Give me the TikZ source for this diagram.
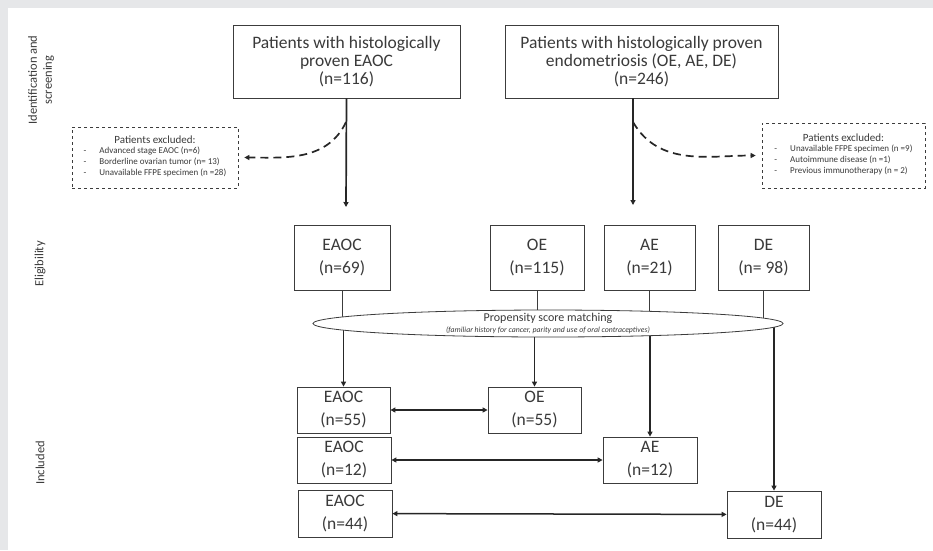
\documentclass[tikz,border=0pt]{standalone}
\usepackage{fontspec}
\setmainfont{Carlito}
\usetikzlibrary{
	arrows.meta,
	shapes.geometric
}
\definecolor{txtgray}{HTML}{3A3A3A}
\definecolor{linegray}{HTML}{3C3C3C}
\definecolor{bggray}{HTML}{E6E7E9}
\tikzset{
	box/.style={
		draw=linegray,
		line width=.8pt,
		fill=white,
		text=txtgray,
		align=center,
		inner sep=0pt,
		font=\fontsize{17.5}{23}\selectfont
	},
	topbox/.style={
		box,
		font=\fontsize{17.5}{18}\selectfont
	},
	exbox/.style={
		draw=linegray,
		dashed,
		line width=.7pt,
		text=txtgray,
		align=center,
		inner sep=0pt
	},
	psm/.style={
		ellipse,
		draw=linegray,
		line width=.8pt,
		fill=white,
		text=txtgray,
		align=center,
		inner xsep=0pt,
		inner ysep=-3pt
	},
	phase/.style={
		rotate=90,
		text=txtgray,
		align=center,
		font=\fontsize{12.5}{15}\selectfont
	},
	thinline/.style={
		draw=linegray,
		line width=.8pt
	},
	flow/.style={
		draw=black!85,
		line width=1.7pt,
		-{Triangle[length=5pt,width=5pt]}
	},
	pairflow/.style={
		flow,
		line width=1.5pt,
		{Triangle[length=5pt,width=5pt]}-{Triangle[length=5pt,width=5pt]}
	},
	exflow/.style={
		draw=black!85,
		line width=1.7pt,
		dash pattern=on 8pt off 5pt,
		-{Triangle[length=5pt,width=5pt]},
		shorten >=6pt
	}
}
\newcommand{\exlist}[3]{%
	{\fontsize{11}{12}\selectfont Patients excluded:}\\[1pt]
	{\fontsize{9}{11}\selectfont
		\begin{tabular}{@{}l@{\hspace{13pt}}l@{}}
			- & #1\\
			- & #2\\
			- & #3
		\end{tabular}}%
}

\begin{document}
\begin{tikzpicture}[x=1pt, y=-1pt]
	\fill[bggray] (0,0) rectangle (933,550);
	\fill[white] (8,8) rectangle (933,550);

	%%%%%%%% PHASES
	\node[phase] (ident) at (41,80) {Identification and\\screening};
	\node[phase] (elig) at (40,264) {Eligibility};
	\node[phase] (incl) at (40,463) {Included};

	%%%%%%%% IDENTIFICATION
	\node[topbox, minimum width=227pt, minimum height=73pt] (eaocall) at (346.5,61.5)
		{Patients with histologically\\proven EAOC\\(n=116)};
	\node[topbox, minimum width=273pt, minimum height=73pt] (endoall) at (641.5,61.5)
		{Patients with histologically proven\\endometriosis (OE, AE, DE)\\(n=246)};

	\node[exbox, minimum width=166pt, minimum height=61pt] (exeaoc) at (155,157.5)
		{\exlist{Advanced stage EAOC (n=6)}{Borderline ovarian tumor (n= 13)}{Unavailable FFPE specimen (n =28)}};
	\node[exbox, minimum width=163pt, minimum height=65pt] (exendo) at (843.5,155.5)
		{\exlist{Unavailable FFPE specimen (n =9)}{Autoimmune disease (n =1)}{Previous immunotherapy (n = 2)}};

	\coordinate (eaocsplit) at (346,122);
	\coordinate (endosplit) at (633,122);
	\coordinate (eaocend) at (346,207);
	\coordinate (endoend) at (633,205);

	\draw[flow] (eaocall.south) -- (eaocend);
	\draw[flow] (endoall.south -| endoend) -- (endoend);
	\draw[exflow] (eaocsplit) to[out=-115, in=0] (exeaoc.east);
	\draw[exflow] (endosplit) to[out=-60, in=180] (exendo.west);

	%%%%%%%% ELIGIBILITY
	\node[box, minimum width=96pt, minimum height=65pt] (eaoc69) at (342,257.5) {EAOC\\(n=69)};
	\node[box, minimum width=94pt, minimum height=65pt] (oe115) at (537,257.5) {OE\\(n=115)};
	\node[box, minimum width=91pt, minimum height=65pt] (ae21) at (649.5,257.5) {AE\\(n=21)};
	\node[box, minimum width=91pt, minimum height=65pt] (de98) at (763.5,257.5) {DE\\(n= 98)};

	%%%%%%%% INCLUDED
	\node[box, minimum width=93pt, minimum height=46pt] (eaoc55) at (343.5,410) {EAOC\\(n=55)};
	\node[box, minimum width=93pt, minimum height=46pt] (oe55) at (534.5,410) {OE\\(n=55)};
	\node[box, minimum width=94pt, minimum height=46pt] (eaoc12) at (344,460) {EAOC\\(n=12)};
	\node[box, minimum width=94pt, minimum height=46pt] (ae12) at (650,460) {AE\\(n=12)};
	\node[box, minimum width=94pt, minimum height=47pt] (eaoc44) at (345,513.5) {EAOC\\(n=44)};
	\node[box, minimum width=94pt, minimum height=47pt] (de44) at (774,514.5) {DE\\(n=44)};

	%%%%%%%% MATCHING
	\coordinate (psmc) at (548,323.5);
	\foreach \b in {eaoc69,oe115,ae21,de98}
		\draw[thinline] (\b.south) -- (\b.south |- psmc);
	\foreach \b in {eaoc55,oe55,ae12,de44}
		\draw[flow] (\b.north |- psmc) -- (\b.north);
	\node[psm, minimum width=470pt, minimum height=27pt] (match) at (psmc)
		{{\fontsize{12}{12}\selectfont Propensity score matching}\\[-1.5pt]
		{\fontsize{7.8}{8}\selectfont\itshape (familiar history for cancer, parity and use of oral contraceptives)}};

	\draw[pairflow] (eaoc55) -- (oe55);
	\draw[pairflow] (eaoc12) -- (ae12);
	\draw[pairflow] (eaoc44) -- (de44);
\end{tikzpicture}
\end{document}
